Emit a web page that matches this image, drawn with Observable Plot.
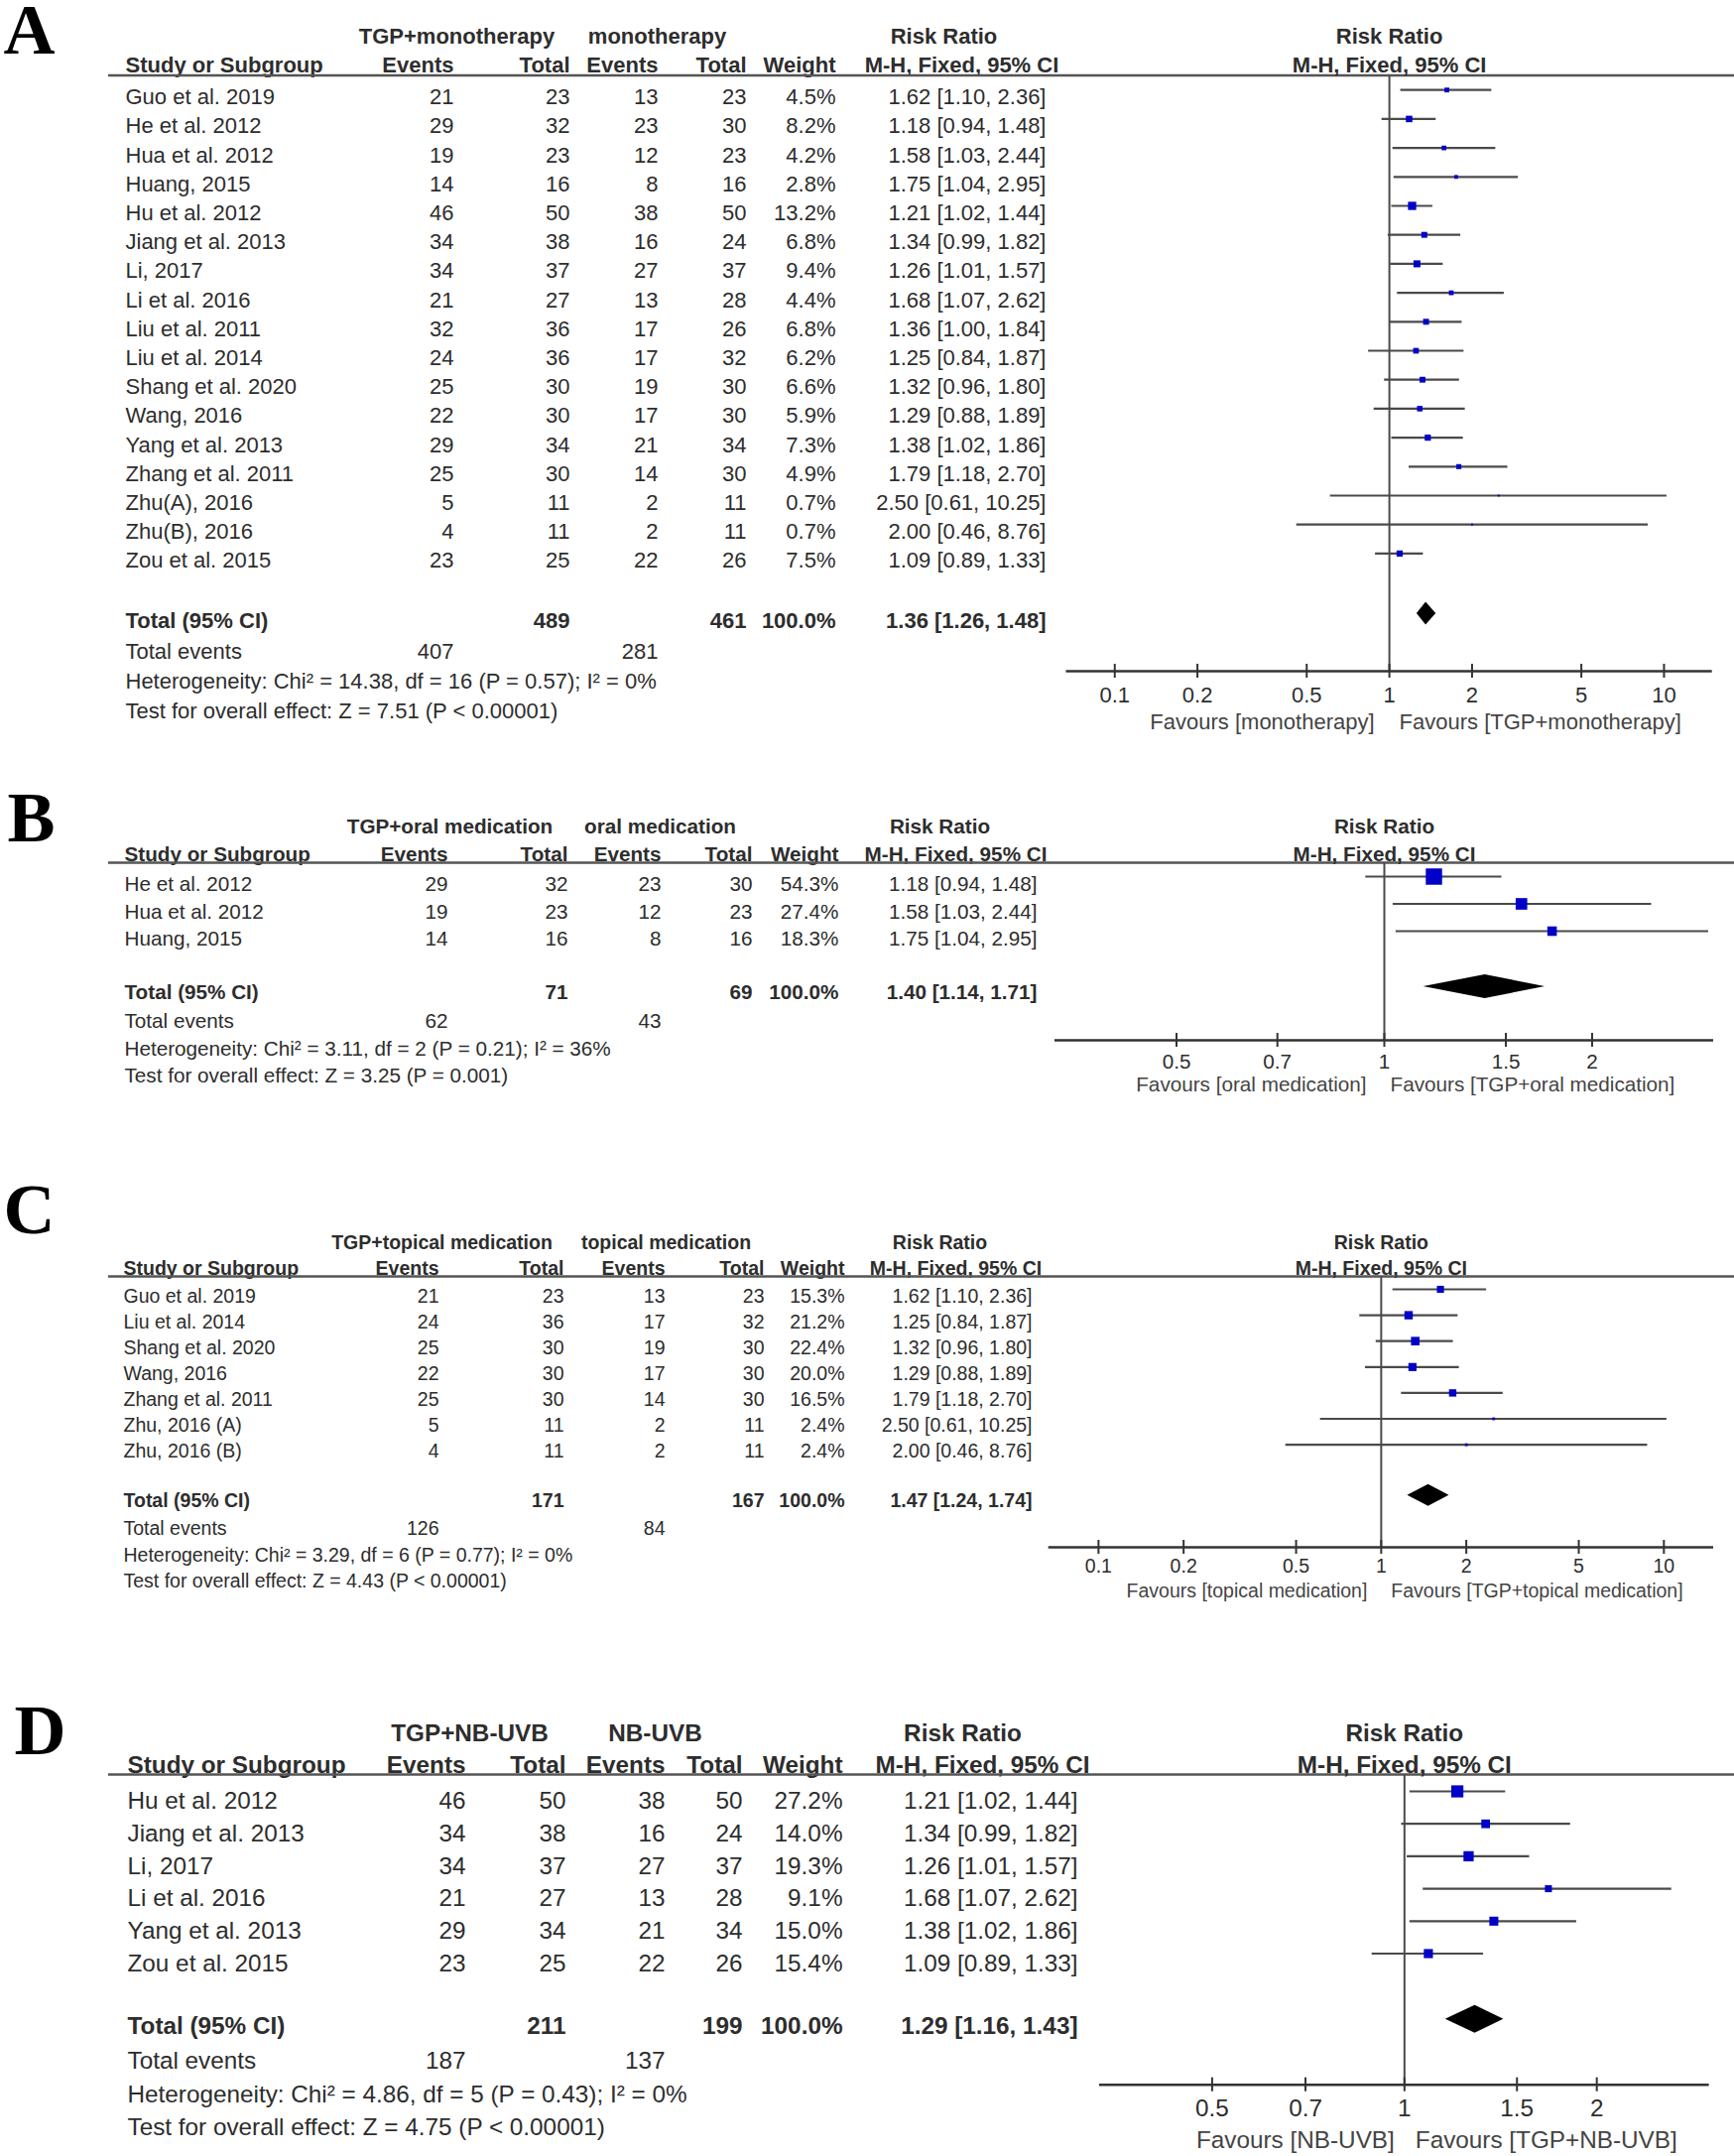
<!DOCTYPE html>
<html><head><meta charset="utf-8">
<script src="https://cdn.jsdelivr.net/npm/d3@7"></script>
<script src="https://cdn.jsdelivr.net/npm/@observablehq/plot@0.6"></script>
<style>
html,body{margin:0;padding:0;background:#fff;}
#page{position:relative;width:1748px;height:2173px;overflow:hidden;background:#fff;}
.panel{position:absolute;left:0;width:1748px;}
.panel svg{position:absolute;left:0;top:0;max-width:none !important;}
</style></head><body><div id="page"></div>
<script>
// ---------------- DATA: Panel A ----------------
const studiesA = ["Guo et al. 2019","He et al. 2012","Hua et al. 2012","Huang, 2015","Hu et al. 2012","Jiang et al. 2013","Li, 2017","Li et al. 2016","Liu et al. 2011","Liu et al. 2014","Shang et al. 2020","Wang, 2016","Yang et al. 2013","Zhang et al. 2011","Zhu(A), 2016","Zhu(B), 2016","Zou et al. 2015"];
const evTreatA = [21,29,19,14,46,34,34,21,32,24,25,22,29,25,5,4,23];
const totTreatA = [23,32,23,16,50,38,37,27,36,36,30,30,34,30,11,11,25];
const evCtrlA = [13,23,12,8,38,16,27,13,17,17,19,17,21,14,2,2,22];
const totCtrlA = [23,30,23,16,50,24,37,28,26,32,30,30,34,30,11,11,26];
const weightA = [4.5,8.2,4.2,2.8,13.2,6.8,9.4,4.4,6.8,6.2,6.6,5.9,7.3,4.9,0.7,0.7,7.5];
const rrA = [1.62,1.18,1.58,1.75,1.21,1.34,1.26,1.68,1.36,1.25,1.32,1.29,1.38,1.79,2.50,2.00,1.09];
const loA = [1.10,0.94,1.03,1.04,1.02,0.99,1.01,1.07,1.00,0.84,0.96,0.88,1.02,1.18,0.61,0.46,0.89];
const hiA = [2.36,1.48,2.44,2.95,1.44,1.82,1.57,2.62,1.84,1.87,1.80,1.89,1.86,2.70,10.25,8.76,1.33];
const groupsA = ["TGP+monotherapy","monotherapy"];
const totalsA = [489,461];
const pooledA = [1.36,1.26,1.48];
const totalEventsA = [407,281];
const hetA = "Heterogeneity: Chi² = 14.38, df = 16 (P = 0.57); I² = 0%";
const testA = "Test for overall effect: Z = 7.51 (P < 0.00001)";
const favoursA = ["Favours [monotherapy]","Favours [TGP+monotherapy]"];
const ticksA = [0.1,0.2,0.5,1,2,5,10];

// ---------------- DATA: Panel B ----------------
const studiesB = ["He et al. 2012","Hua et al. 2012","Huang, 2015"];
const evTreatB = [29,19,14];
const totTreatB = [32,23,16];
const evCtrlB = [23,12,8];
const totCtrlB = [30,23,16];
const weightB = [54.3,27.4,18.3];
const rrB = [1.18,1.58,1.75];
const loB = [0.94,1.03,1.04];
const hiB = [1.48,2.44,2.95];
const groupsB = ["TGP+oral medication","oral medication"];
const totalsB = [71,69];
const pooledB = [1.40,1.14,1.71];
const totalEventsB = [62,43];
const hetB = "Heterogeneity: Chi² = 3.11, df = 2 (P = 0.21); I² = 36%";
const testB = "Test for overall effect: Z = 3.25 (P = 0.001)";
const favoursB = ["Favours [oral medication]","Favours [TGP+oral medication]"];
const ticksB = [0.5,0.7,1,1.5,2];

// ---------------- DATA: Panel C ----------------
const studiesC = ["Guo et al. 2019","Liu et al. 2014","Shang et al. 2020","Wang, 2016","Zhang et al. 2011","Zhu, 2016 (A)","Zhu, 2016 (B)"];
const evTreatC = [21,24,25,22,25,5,4];
const totTreatC = [23,36,30,30,30,11,11];
const evCtrlC = [13,17,19,17,14,2,2];
const totCtrlC = [23,32,30,30,30,11,11];
const weightC = [15.3,21.2,22.4,20.0,16.5,2.4,2.4];
const rrC = [1.62,1.25,1.32,1.29,1.79,2.50,2.00];
const loC = [1.10,0.84,0.96,0.88,1.18,0.61,0.46];
const hiC = [2.36,1.87,1.80,1.89,2.70,10.25,8.76];
const groupsC = ["TGP+topical medication","topical medication"];
const totalsC = [171,167];
const pooledC = [1.47,1.24,1.74];
const totalEventsC = [126,84];
const hetC = "Heterogeneity: Chi² = 3.29, df = 6 (P = 0.77); I² = 0%";
const testC = "Test for overall effect: Z = 4.43 (P < 0.00001)";
const favoursC = ["Favours [topical medication]","Favours [TGP+topical medication]"];
const ticksC = [0.1,0.2,0.5,1,2,5,10];

// ---------------- DATA: Panel D ----------------
const studiesD = ["Hu et al. 2012","Jiang et al. 2013","Li, 2017","Li et al. 2016","Yang et al. 2013","Zou et al. 2015"];
const evTreatD = [46,34,34,21,29,23];
const totTreatD = [50,38,37,27,34,25];
const evCtrlD = [38,16,27,13,21,22];
const totCtrlD = [50,24,37,28,34,26];
const weightD = [27.2,14.0,19.3,9.1,15.0,15.4];
const rrD = [1.21,1.34,1.26,1.68,1.38,1.09];
const loD = [1.02,0.99,1.01,1.07,1.02,0.89];
const hiD = [1.44,1.82,1.57,2.62,1.86,1.33];
const groupsD = ["TGP+NB-UVB","NB-UVB"];
const totalsD = [211,199];
const pooledD = [1.29,1.16,1.43];
const totalEventsD = [187,137];
const hetD = "Heterogeneity: Chi² = 4.86, df = 5 (P = 0.43); I² = 0%";
const testD = "Test for overall effect: Z = 4.75 (P < 0.00001)";
const favoursD = ["Favours [NB-UVB]","Favours [TGP+NB-UVB]"];
const ticksD = [0.5,0.7,1,1.5,2];

const studyHeader = "Study or Subgroup";
const numberHeaders = ["Events","Total","Events","Total","Weight"];
const ciHeader = "M-H, Fixed, 95% CI";

// ---------------- LAYOUT (page pixels) ----------------
const layouts = {
  A: {top:0, height:770, font:22, letterX:3, letterBase:53, h1:36, h2:65, rule:75.5, row0:97.7, sp:29.2,
      summary:[625,656,686,716], shift:-7.5, dshift:-7, dh:11.5, axis:676, tickLab:700, fav:727, favDx:[-15,10],
      cols:{study:126, ev1:457, tot1:574, ev2:663, tot2:752, wt:842, ci:1054, g1:460, g2:662, rr:951, mh:969},
      ruleX0:109, xDomain:[1/15,15], xRange:[1074.5,1725.7], rMax:12.9},
  B: {top:770, height:370, font:20.7, letterX:7, letterBase:847, h1:833, h2:861, rule:869, row0:891, sp:27.5,
      summary:[1000,1029,1057,1084], shift:-8, dshift:-6, dh:12, axis:1048, tickLab:1070, fav:1093, favDx:[-18,6],
      cols:{study:125, ev1:451, tot1:572, ev2:666, tot2:758, wt:845, ci:1045, g1:453, g2:665, rr:947, mh:963},
      ruleX0:109, xDomain:[1/3,3], xRange:[1063,1727], rMax:12.6},
  C: {top:1140, height:500, font:19.5, letterX:3, letterBase:1242, h1:1252, h2:1278, rule:1286, row0:1306, sp:26.1,
      summary:[1512.7,1540.7,1567,1593], shift:-7, dshift:-6, dh:11, axis:1559, tickLab:1578, fav:1603, favDx:[-14,10],
      cols:{study:124, ev1:442, tot1:568, ev2:670, tot2:770, wt:851, ci:1040, g1:445, g2:671, rr:947, mh:963},
      ruleX0:109, xDomain:[1/15,15], xRange:[1056.7,1727], rMax:10.3},
  D: {top:1640, height:533, font:24.3, letterX:14, letterBase:1767, h1:1746.7, h2:1779, rule:1788, row0:1815, sp:32.7,
      summary:[2041.7,2076.7,2111,2143.3], shift:-10, dshift:-7, dh:14, axis:2100.7, tickLab:2125, fav:2156.7, favDx:[-10,11],
      cols:{study:128, ev1:469, tot1:570, ev2:670, tot2:748, wt:849, ci:1086, g1:473, g2:660, rr:970, mh:990},
      ruleX0:109, xDomain:[1/3,3], xRange:[1108,1722.6], rMax:13.2}
};

const panels = [
  {letter:"A", L:layouts.A, studies:studiesA, evT:evTreatA, totT:totTreatA, evC:evCtrlA, totC:totCtrlA, weight:weightA, rr:rrA, lo:loA, hi:hiA, groups:groupsA, totals:totalsA, pooled:pooledA, totalEvents:totalEventsA, het:hetA, test:testA, favours:favoursA, ticks:ticksA},
  {letter:"B", L:layouts.B, studies:studiesB, evT:evTreatB, totT:totTreatB, evC:evCtrlB, totC:totCtrlB, weight:weightB, rr:rrB, lo:loB, hi:hiB, groups:groupsB, totals:totalsB, pooled:pooledB, totalEvents:totalEventsB, het:hetB, test:testB, favours:favoursB, ticks:ticksB},
  {letter:"C", L:layouts.C, studies:studiesC, evT:evTreatC, totT:totTreatC, evC:evCtrlC, totC:totCtrlC, weight:weightC, rr:rrC, lo:loC, hi:hiC, groups:groupsC, totals:totalsC, pooled:pooledC, totalEvents:totalEventsC, het:hetC, test:testC, favours:favoursC, ticks:ticksC},
  {letter:"D", L:layouts.D, studies:studiesD, evT:evTreatD, totT:totTreatD, evC:evCtrlD, totC:totCtrlD, weight:weightD, rr:rrD, lo:loD, hi:hiD, groups:groupsD, totals:totalsD, pooled:pooledD, totalEvents:totalEventsD, het:hetD, test:testD, favours:favoursD, ticks:ticksD}
];

const SANS = "'Liberation Sans', Arial, Helvetica, sans-serif";
const SERIF = "'Liberation Serif', 'Times New Roman', serif";
const TXT = "#2d2d2d";
const LINE = "#4a4a4a";
const ciText = (a,b,c) => `${a.toFixed(2)} [${b.toFixed(2)}, ${c.toFixed(2)}]`;

function buildPanel(P) {
  const L = P.L, C = L.cols;
  const div = document.createElement("div");
  div.className = "panel";
  div.style.top = L.top + "px";
  div.style.height = L.height + "px";
  const rows = P.studies.map((s, i) => ({i, study: s, ev1: P.evT[i], tot1: P.totT[i], ev2: P.evC[i], tot2: P.totC[i],
    w: P.weight[i], rr: P.rr[i], lo: P.lo[i], hi: P.hi[i]}));
  const yl = py => (py - L.row0) / L.sp;
  const yr = py => (py - L.row0 - L.shift) / L.sp;
  const txt = (data, o) => Plot.text(data, {fontSize: L.font, fill: TXT, fontFamily: SANS, ...o});

  const numKeys = ["ev1","tot1","ev2","tot2","wt"];
  const sumIdx = L.summary.map(yl);

  // ---------- table plot ----------
  const table = Plot.plot({
    width: 1748, height: L.height,
    marginTop: 0, marginRight: 0, marginBottom: 0, marginLeft: 0,
    style: {background: "transparent", overflow: "visible"},
    x: {type: "linear", domain: [0, 1748], range: [0, 1748], axis: null},
    y: {type: "linear", domain: [0, 1], range: [L.row0 - L.top, L.row0 - L.top + L.sp], axis: null},
    marks: [
      Plot.text([P.letter], {x: L.letterX, y: yl(L.letterBase), text: d => d, fontFamily: SERIF, fontWeight: "bold",
        fontSize: 72, fill: "#000", textAnchor: "start", lineAnchor: "bottom"}),
      txt(P.groups, {x: (d, i) => i === 0 ? C.g1 : C.g2, y: yl(L.h1), text: d => d, fontWeight: "bold"}),
      txt(["Risk Ratio"], {x: C.rr, y: yl(L.h1), text: d => d, fontWeight: "bold"}),
      txt([studyHeader], {x: C.study, y: yl(L.h2), text: d => d, fontWeight: "bold", textAnchor: "start"}),
      txt(numberHeaders, {x: (d, i) => C[numKeys[i]], y: yl(L.h2), text: d => d, fontWeight: "bold", textAnchor: "end"}),
      txt([ciHeader], {x: C.mh, y: yl(L.h2), text: d => d, fontWeight: "bold"}),
      Plot.ruleY([yl(L.rule)], {x1: L.ruleX0, x2: 1748, stroke: "#555", strokeWidth: 2.5}),
      txt(rows, {x: C.study, y: "i", text: "study", textAnchor: "start"}),
      txt(rows, {x: C.ev1, y: "i", text: d => String(d.ev1), textAnchor: "end"}),
      txt(rows, {x: C.tot1, y: "i", text: d => String(d.tot1), textAnchor: "end"}),
      txt(rows, {x: C.ev2, y: "i", text: d => String(d.ev2), textAnchor: "end"}),
      txt(rows, {x: C.tot2, y: "i", text: d => String(d.tot2), textAnchor: "end"}),
      txt(rows, {x: C.wt, y: "i", text: d => d.w.toFixed(1) + "%", textAnchor: "end"}),
      txt(rows, {x: C.ci, y: "i", text: d => ciText(d.rr, d.lo, d.hi), textAnchor: "end"}),
      // Total row
      txt(["Total (95% CI)"], {x: C.study, y: sumIdx[0], text: d => d, textAnchor: "start", fontWeight: "bold"}),
      txt(P.totals, {x: (d, i) => i === 0 ? C.tot1 : C.tot2, y: sumIdx[0], text: d => String(d), textAnchor: "end", fontWeight: "bold"}),
      txt(["100.0%"], {x: C.wt, y: sumIdx[0], text: d => d, textAnchor: "end", fontWeight: "bold"}),
      txt([P.pooled], {x: C.ci, y: sumIdx[0], text: d => ciText(d[0], d[1], d[2]), textAnchor: "end", fontWeight: "bold"}),
      // Total events
      txt(["Total events"], {x: C.study, y: sumIdx[1], text: d => d, textAnchor: "start"}),
      txt(P.totalEvents, {x: (d, i) => i === 0 ? C.ev1 : C.ev2, y: sumIdx[1], text: d => String(d), textAnchor: "end"}),
      txt([P.het], {x: C.study, y: sumIdx[2], text: d => d, textAnchor: "start"}),
      txt([P.test], {x: C.study, y: sumIdx[3], text: d => d, textAnchor: "start"})
    ]
  });

  // ---------- forest plot ----------
  const dc = L.summary[0] + L.dshift;
  const diamond = [
    {y: yr(dc - L.dh), x1: P.pooled[0], x2: P.pooled[0]},
    {y: yr(dc), x1: P.pooled[1], x2: P.pooled[2]},
    {y: yr(dc + L.dh), x1: P.pooled[0], x2: P.pooled[0]}
  ];
  const ax = yr(L.axis);
  const tk = 7 / L.sp;
  const forest = Plot.plot({
    width: 1748, height: L.height,
    marginTop: 0, marginRight: 0, marginBottom: 0, marginLeft: 0,
    style: {background: "transparent", overflow: "visible"},
    x: {type: "log", domain: L.xDomain, range: L.xRange, axis: null},
    y: {type: "linear", domain: [0, 1], range: [L.row0 + L.shift - L.top, L.row0 + L.shift - L.top + L.sp], axis: null},
    r: {type: "sqrt", domain: [0, 100], range: [0, L.rMax]},
    marks: [
      txt(["Risk Ratio"], {x: 1, y: yr(L.h1), text: d => d, fontWeight: "bold"}),
      txt(["M-H, Fixed, 95% CI"], {x: 1, y: yr(L.h2), text: d => d, fontWeight: "bold"}),
      Plot.ruleX([1], {y1: yr(L.rule), y2: ax, stroke: LINE, strokeWidth: 2}),
      Plot.ruleY(rows, {y: "i", x1: "lo", x2: "hi", stroke: LINE, strokeWidth: 2.2}),
      Plot.dot(rows, {x: "rr", y: "i", r: "w", symbol: "square", fill: "#0000c8"}),
      Plot.areaX(diamond, {y: "y", x1: "x1", x2: "x2", fill: "#000", curve: "linear"}),
      Plot.ruleY([ax], {x1: L.xDomain[0], x2: L.xDomain[1], stroke: "#333", strokeWidth: 2.5}),
      Plot.ruleX(P.ticks, {x: d => d, y1: ax - tk, y2: ax + tk, stroke: "#333", strokeWidth: 2}),
      txt(P.ticks, {x: d => d, y: yr(L.tickLab), text: d => String(d)}),
      txt([P.favours[0]], {x: 1, y: yr(L.fav), text: d => d, textAnchor: "end", dx: L.favDx[0], fill: "#444"}),
      txt([P.favours[1]], {x: 1, y: yr(L.fav), text: d => d, textAnchor: "start", dx: L.favDx[1], fill: "#444"})
    ]
  });

  div.appendChild(table);
  div.appendChild(forest);
  document.getElementById("page").appendChild(div);
}

panels.forEach(buildPanel);
</script>
</body></html>
